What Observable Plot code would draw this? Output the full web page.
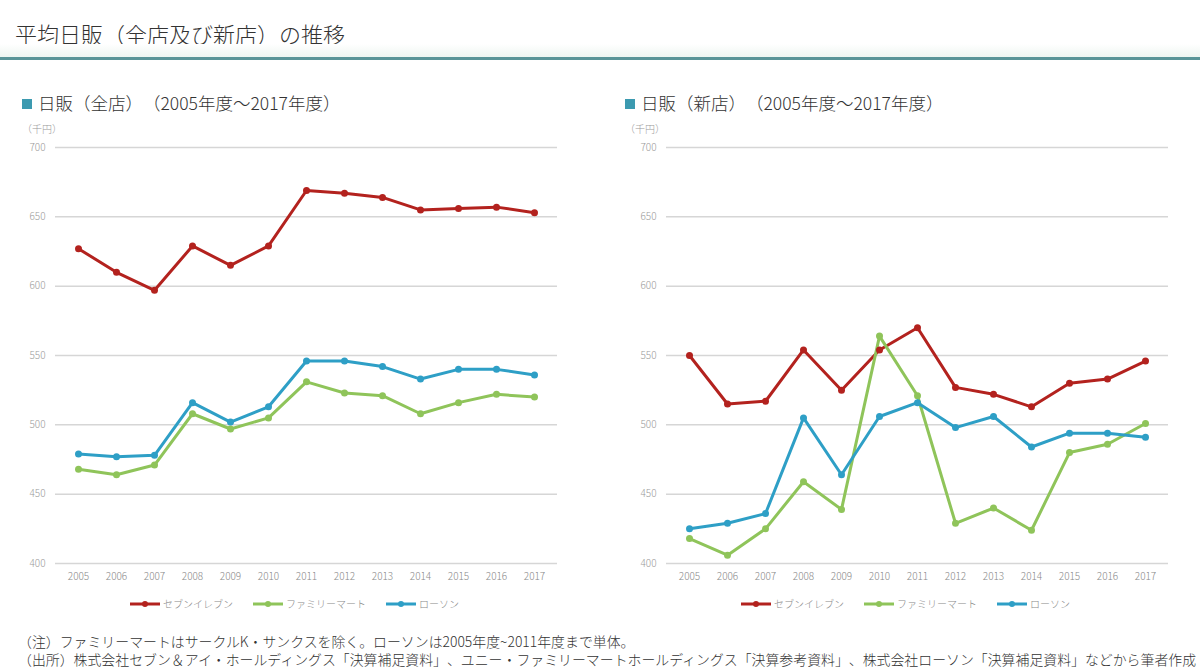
<!DOCTYPE html>
<html>
<head>
<meta charset="utf-8">
<script src="https://cdn.jsdelivr.net/npm/d3@7"></script>
<script src="https://cdn.jsdelivr.net/npm/@observablehq/plot@0.6"></script>
<style>
  html, body { margin: 0; padding: 0; background: #fff; }
  body { width: 1200px; height: 672px; position: relative; overflow: hidden;
         font-family: "Noto Sans CJK JP", "Noto Sans", sans-serif; color: #333;
         text-spacing-trim: space-all; font-feature-settings: normal; }
  .abs { position: absolute; white-space: nowrap; }
  #title { left: 15px; top: 21px; font-size: 22px; line-height: 24px; font-weight: 300; color: #333; }
  #shade { left: 0; top: 44px; width: 1200px; height: 13px; background: linear-gradient(#ffffff, #eef6f1); }
  #rule { left: 0; top: 57px; width: 1200px; height: 3px; background: #5a9598; }
  .sub { font-size: 17.5px; line-height: 20px; top: 93px; color: #333; font-weight: 300; }
  .sub .sq { display: inline-block; width: 10px; height: 10px; background: #3c9ab0; margin-right: 6px; vertical-align: 1px; }
  .unit { font-size: 10px; line-height: 12px; top: 123px; color: #999; font-weight: 300; }
  .chart { top: 135px; }
  .legend { top: 597px; font-size: 10px; line-height: 14px; color: #888; font-weight: 300; display: flex; align-items: center; }
  .legend .item { display: flex; align-items: center; margin-right: 20px; }
  .legend svg { margin-right: 3px; }
  .note { left: 18px; font-size: 13.9px; line-height: 16px; color: #333; font-weight: 300; }
</style>
</head>
<body>
<div id="title" class="abs">平均日販（全店及び新店）の推移</div>
<div id="shade" class="abs"></div>
<div id="rule" class="abs"></div>
<div class="abs sub" style="left:22px"><span class="sq"></span>日販（全店）（2005年度～2017年度）</div>
<div class="abs sub" style="left:625px"><span class="sq"></span>日販（新店）（2005年度～2017年度）</div>
<div class="abs unit" style="left:22px">（千円）</div>
<div class="abs unit" style="left:625px">（千円）</div>
<div id="chartL" class="abs chart" style="left:0px"></div>
<div id="chartR" class="abs chart" style="left:600px"></div>
<div id="legendL" class="abs legend" style="left:130px"></div>
<div id="legendR" class="abs legend" style="left:741px"></div>
<div class="abs note" style="top:633px">（注）ファミリーマートはサークルK・サンクスを除く。ローソンは2005年度~2011年度まで単体。</div>
<div class="abs note" style="top:651px">（出所）株式会社セブン＆アイ・ホールディングス「決算補足資料」、ユニー・ファミリーマートホールディングス「決算参考資料」、株式会社ローソン「決算補足資料」などから筆者作成</div>
<script>
// ---- data ----
const years = [2005, 2006, 2007, 2008, 2009, 2010, 2011, 2012, 2013, 2014, 2015, 2016, 2017];
const seriesNames = ["セブンイレブン", "ファミリーマート", "ローソン"];
const seriesColors = ["#b3221e", "#8fc45a", "#2e9fc6"];
const yTicks = [400, 450, 500, 550, 600, 650, 700];

// 全店
const allSeven  = [627, 610, 597, 629, 615, 629, 669, 667, 664, 655, 656, 657, 653];
const allFamily = [468, 464, 471, 508, 497, 505, 531, 523, 521, 508, 516, 522, 520];
const allLawson = [479, 477, 478, 516, 502, 513, 546, 546, 542, 533, 540, 540, 536];

// 新店
const newSeven  = [550, 515, 517, 554, 525, 554, 570, 527, 522, 513, 530, 533, 546];
const newFamily = [418, 406, 425, 459, 439, 564, 521, 429, 440, 424, 480, 486, 501];
const newLawson = [425, 429, 436, 505, 464, 506, 516, 498, 506, 484, 494, 494, 491];

function toRows(arrs) {
  const rows = [];
  arrs.forEach((vals, si) => vals.forEach((v, i) => rows.push({year: years[i], value: v, series: seriesNames[si]})));
  return rows;
}

function makeChart(rows, marginLeft, marginRight) {
  return Plot.plot({
    width: 600,
    height: 460,
    marginTop: 12,
    marginBottom: 32,
    marginLeft,
    marginRight,
    style: { fontFamily: "'Noto Sans CJK JP', 'Noto Sans', sans-serif", fontSize: "10px", color: "#888", background: "transparent" },
    x: { type: "point", domain: years, padding: 0.5 },
    y: { domain: [400, 700] },
    color: { domain: seriesNames, range: seriesColors },
    marks: [
      Plot.gridY(yTicks, { stroke: "#d6d6d6", strokeOpacity: 1, strokeWidth: 1.5 }),
      Plot.axisY(yTicks, { tickSize: 0, tickPadding: 10, label: null, fill: "#999", fontWeight: 300 }),
      Plot.axisX({ tickSize: 0, tickPadding: 9, label: null, tickFormat: d => String(d), fill: "#888", fontWeight: 300 }),
      Plot.line(rows, { x: "year", y: "value", z: "series", stroke: "series", strokeWidth: 3, strokeLinejoin: "round" }),
      Plot.dot(rows, { x: "year", y: "value", fill: "series", r: 3.5 })
    ]
  });
}

document.getElementById("chartL").append(makeChart(toRows([allSeven, allFamily, allLawson]), 55, 43));
document.getElementById("chartR").append(makeChart(toRows([newSeven, newFamily, newLawson]), 66, 32));

function makeLegend(el) {
  seriesNames.forEach((name, i) => {
    const item = document.createElement("div");
    item.className = "item";
    item.innerHTML = `<svg width="30" height="10"><line x1="0" x2="30" y1="5" y2="5" stroke="${seriesColors[i]}" stroke-width="3"/><circle cx="15" cy="5" r="3" fill="${seriesColors[i]}"/></svg><span>${name}</span>`;
    el.append(item);
  });
}
makeLegend(document.getElementById("legendL"));
makeLegend(document.getElementById("legendR"));
</script>
</body>
</html>
